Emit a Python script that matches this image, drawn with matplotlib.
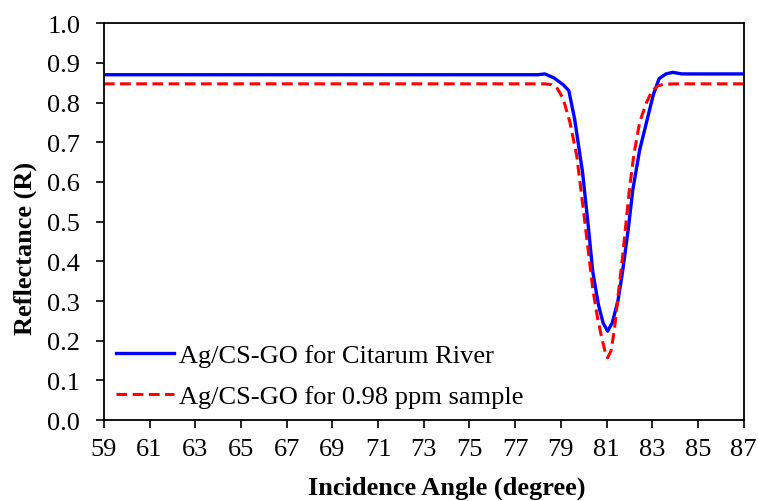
import matplotlib
matplotlib.use("Agg")
import matplotlib.pyplot as plt

plt.rcParams['font.family'] = ['Liberation Serif', 'DejaVu Serif']

angle_blue = [59, 70, 78.0, 78.3, 78.7, 79.1, 79.35, 79.6, 79.95, 80.2, 80.4, 80.65, 80.85, 81.05,
              81.25, 81.5, 81.7, 81.95, 82.15, 82.45, 82.75, 83.05, 83.3, 83.6, 83.9, 84.3, 87]
refl_blue = [0.87, 0.87, 0.87, 0.872, 0.862, 0.845, 0.83, 0.76, 0.625, 0.49, 0.373, 0.29, 0.245, 0.224,
             0.245, 0.30, 0.373, 0.48, 0.58, 0.68, 0.75, 0.82, 0.86, 0.872, 0.876, 0.872, 0.872]

angle_red = [59, 70, 78.3, 78.6, 78.85, 79.1, 79.4, 79.7, 80.05, 80.4, 80.6, 80.8, 80.95, 81.05,
             81.2, 81.35, 81.5, 81.7, 82.0, 82.2, 82.45, 82.75, 83.0, 83.25, 83.5, 84.0, 87]
refl_red = [0.847, 0.847, 0.847, 0.845, 0.835, 0.81, 0.75, 0.665, 0.5, 0.33, 0.26, 0.205, 0.17, 0.157,
            0.175, 0.23, 0.31, 0.41, 0.58, 0.67, 0.75, 0.80, 0.83, 0.842, 0.846, 0.847, 0.847]

label_blue = "Ag/CS-GO for Citarum River"
label_red = "Ag/CS-GO for 0.98 ppm sample"

x_ticks = list(range(59, 88, 2))
y_ticks = [0.0, 0.1, 0.2, 0.3, 0.4, 0.5, 0.6, 0.7, 0.8, 0.9, 1.0]

fig = plt.figure(figsize=(7.58, 5.02), dpi=100)
ax = fig.add_axes([0.137, 0.161, 0.844, 0.791])

ax.plot(angle_blue, refl_blue, color='#0000FF', lw=2.4, label=label_blue)
ax.plot(angle_red, refl_red, color='#FF0000', lw=2.2, ls=(0, (3.5, 1.8)), label=label_red)

ax.set_xlim(59, 87)
ax.set_ylim(0, 1.0)
ax.set_xticks(x_ticks)
ax.set_yticks(y_ticks)
ax.set_yticklabels([f"{v:.1f}" for v in y_ticks])
ax.tick_params(direction='out', length=6, width=1.2, labelsize=19)
ax.tick_params(axis='x', pad=7)
ax.tick_params(axis='y', pad=11)
for s in ax.spines.values():
    s.set_linewidth(1.3)

ax.set_xlabel("Incidence Angle (degree)", fontsize=19, fontweight='bold')
ax.set_ylabel("Reflectance (R)", fontsize=19, fontweight='bold')
ax.xaxis.set_label_coords(0.536, -0.14)
ax.yaxis.set_label_coords(-0.105, 0.436)

ax.legend(loc='lower left', frameon=False, fontsize=19, handlelength=2.2,
          handletextpad=0.2, labelspacing=0.67, borderaxespad=0.05)

fig.savefig("out.png", dpi=100)
